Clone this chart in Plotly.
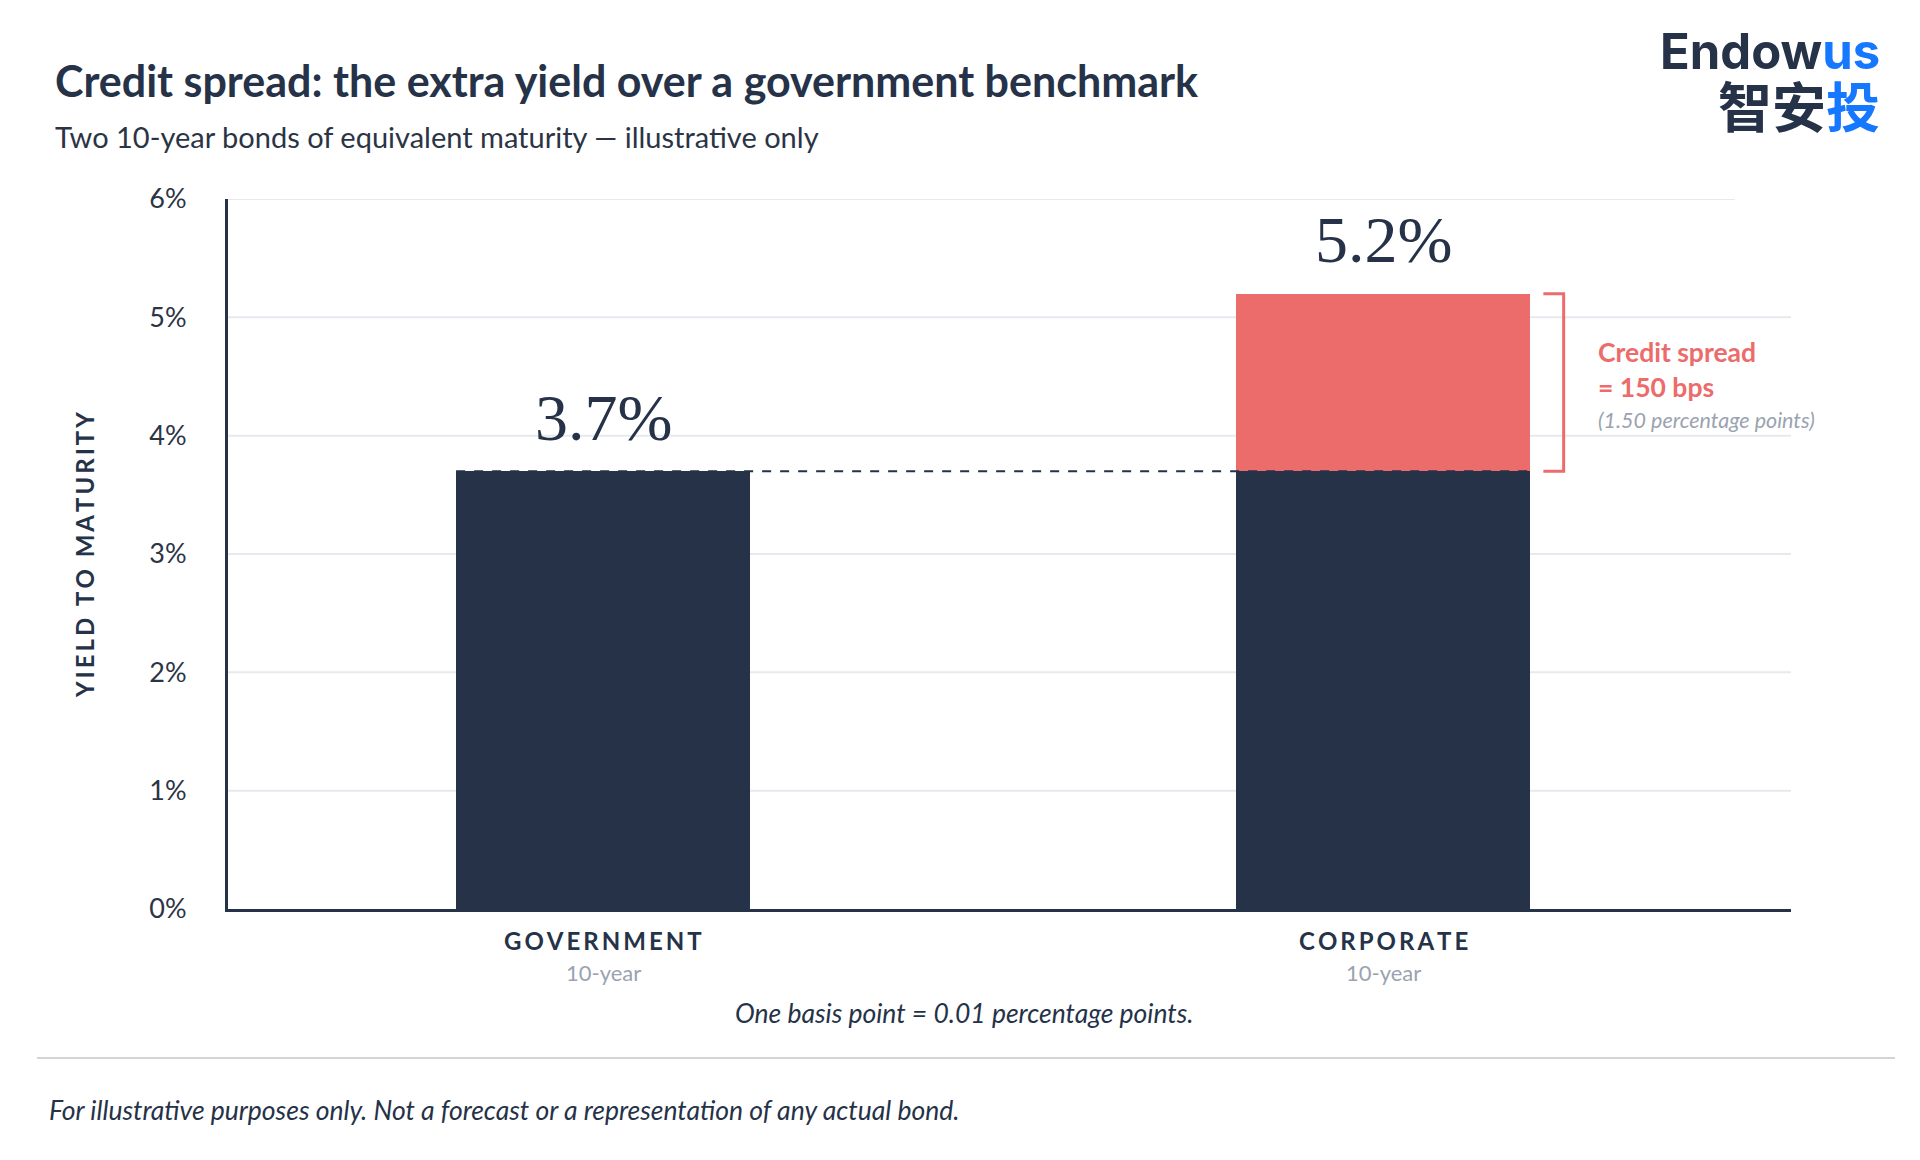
#!/usr/bin/env python3

# Credit spread illustration: government vs corporate 10-year yield.

import plotly.graph_objects as go

NAVY = "#253248"
RED = "#ec6b6b"
BLUE = "#1677ff"
GRAY = "#9aa3af"
GRID = "#e6e9ee"

categories = ["Government", "Corporate"]
sublabels = ["10-year", "10-year"]
yields = [3.7, 5.2]          # yield to maturity, %
benchmark = 3.7              # government benchmark, %
spread_bps = 150

yticks = [0, 1, 2, 3, 4, 5, 6]
yticklabels = ["%d%%" % v for v in yticks]

BAR_W = 0.377


def spaced(s, gap="\u2009"):
    """Fake letter-spacing with thin spaces."""
    return gap.join(s)


base = [min(y, benchmark) for y in yields]
extra = [max(y - benchmark, 0) for y in yields]

fig = go.Figure()
fig.add_trace(go.Bar(x=categories, y=base, width=BAR_W,
                     marker=dict(color=NAVY, line=dict(width=0)),
                     hoverinfo="skip", showlegend=False))
fig.add_trace(go.Bar(x=categories, y=extra, width=BAR_W,
                     marker=dict(color=RED, line=dict(width=0)),
                     hoverinfo="skip", showlegend=False))

# gridlines (top one stops short, as in the original)
for v in yticks[1:]:
    fig.add_shape(type="line", xref="paper", yref="y",
                  x0=0, x1=0.964 if v == yticks[-1] else 1, y0=v, y1=v,
                  line=dict(color=GRID, width=2), layer="below")

# benchmark dashed line across both bars
fig.add_shape(type="line", xref="x", yref="y",
              x0=-BAR_W / 2, x1=1 + BAR_W / 2, y0=benchmark, y1=benchmark,
              line=dict(color=NAVY, width=2, dash="dash"), layer="above")

# bracket for the spread
bx0 = 1 + BAR_W / 2 + 0.017
bx1 = bx0 + 0.026
fig.add_shape(type="path", xref="x", yref="y",
              path="M %f,%f L %f,%f L %f,%f L %f,%f" % (
                  bx0, yields[1], bx1, yields[1], bx1, benchmark, bx0, benchmark),
              line=dict(color=RED, width=3))

annotations = []

# value labels above the bars
for cat, v in zip(categories, yields):
    annotations.append(dict(x=cat, y=v, xref="x", yref="y", yshift=54,
                            text="%.1f%%" % v, showarrow=False,
                            font=dict(family="Liberation Serif", size=66, color=NAVY)))

# category labels under the axis
for cat, sub in zip(categories, sublabels):
    annotations.append(dict(x=cat, y=0, xref="x", yref="y", yshift=-31,
                            text="<b>%s</b>" % spaced(cat.upper()), showarrow=False,
                            font=dict(family="Lato", size=24, color=NAVY)))
    annotations.append(dict(x=cat, y=0, xref="x", yref="y", yshift=-63,
                            text=sub, showarrow=False,
                            font=dict(family="Lato", size=22, color=GRAY)))

# spread callout
tx = bx1 + 0.041
annotations += [
    dict(x=tx, y=yields[1], xref="x", yref="y", yshift=-58,
         xanchor="left", text="<b>Credit spread</b>", showarrow=False,
         font=dict(family="Lato", size=26.5, color=RED)),
    dict(x=tx, y=yields[1], xref="x", yref="y", yshift=-93,
         xanchor="left", text="<b>= %d bps</b>" % spread_bps, showarrow=False,
         font=dict(family="Lato", size=26.5, color=RED)),
    dict(x=tx, y=yields[1], xref="x", yref="y", yshift=-126,
         xanchor="left", text="<i>(%.2f percentage points)</i>" % (spread_bps / 100),
         showarrow=False, font=dict(family="Lato", size=21.5, color=GRAY)),
]

# page-level texts, placed in pixels (x from left, y from top)
page_texts = [
    (53, 80, "left", 0, "<b>Credit spread: the extra yield over a government benchmark</b>",
     dict(family="Lato", size=43, color=NAVY)),
    (53, 137, "left", 0, "Two 10-year bonds of equivalent maturity \u2014 illustrative only",
     dict(family="Lato", size=29, color="#2b3445")),
    (84, 555, "center", -90, "<b>%s</b>" % spaced("YIELD TO MATURITY"),
     dict(family="Lato", size=24, color=NAVY)),
    (964, 1013, "center", 0, "<i>One basis point = 0.01 percentage points.</i>",
     dict(family="Lato", size=26.5, color=NAVY)),
    (47, 1110, "left", 0,
     "<i>For illustrative purposes only. Not a forecast or a representation of any actual bond.</i>",
     dict(family="Lato", size=26.5, color=NAVY)),
    (1882, 51, "right", 0, "<b>Endow<span style='color:%s'>us</span></b>" % BLUE,
     dict(family="Inter", size=49, color=NAVY)),
    (1882, 105, "right", 0, "<b>\u667a\u5b89<span style='color:%s'>\u6295</span></b>" % BLUE,
     dict(family="Noto Sans CJK SC", size=54, color=NAVY)),
]

W, H = 1920, 1160
L, R, T, B = 228, 129, 199, 251
PW, PH = W - L - R, H - T - B


def px_x(x):
    return (x - L) / PW


def px_y(y):
    return (H - y - B) / PH


for x, y, anchor, angle, text, font in page_texts:
    annotations.append(dict(x=px_x(x), y=px_y(y), xref="paper", yref="paper",
                            xanchor=anchor, yanchor="middle", textangle=angle,
                            text=text, showarrow=False, font=font))

# separator line above the footer
fig.add_shape(type="line", xref="paper", yref="paper",
              x0=px_x(37), x1=px_x(1895), y0=px_y(1058), y1=px_y(1058),
              line=dict(color="#d4d4d4", width=2))

fig.update_layout(
    width=W, height=H,
    margin=dict(l=L, r=R, t=T, b=B),
    paper_bgcolor="white", plot_bgcolor="white",
    barmode="stack", bargap=0,
    annotations=annotations,
    font=dict(family="Lato", color=NAVY),
    xaxis=dict(range=[-0.481, 1.523], showticklabels=False, ticks="",
               showgrid=False, zeroline=False,
               showline=True, linecolor=NAVY, linewidth=3),
    yaxis=dict(range=[0, 6], tickvals=yticks, ticktext=yticklabels,
               showgrid=False, zeroline=False, ticks="",
               showline=True, linecolor=NAVY, linewidth=3,
               ticklabelstandoff=33,
               tickfont=dict(family="Lato", size=27, color="#2b3445")),
)

fig.write_html("out.html", config={"displayModeBar": False},
               post_script="document.body.style.margin='0';")
